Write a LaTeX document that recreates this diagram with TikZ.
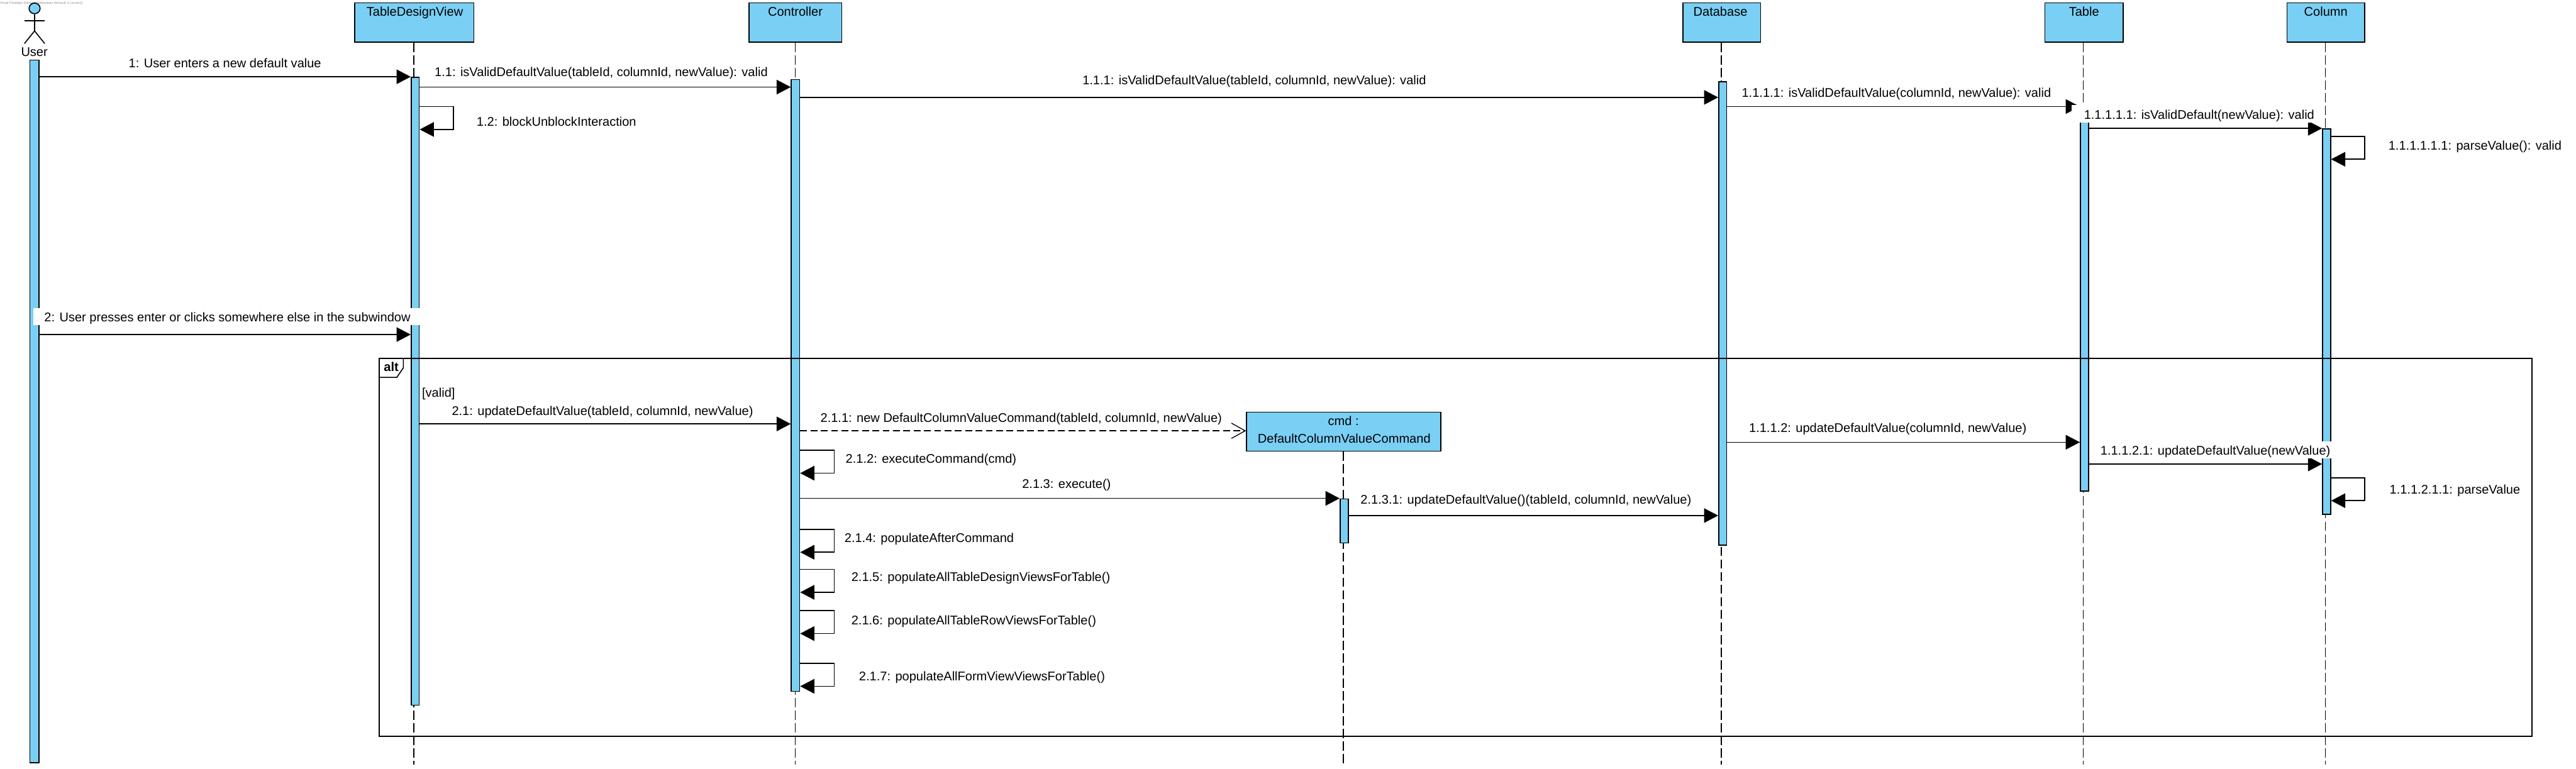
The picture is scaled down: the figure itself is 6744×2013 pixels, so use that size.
\documentclass[tikz,border=0pt]{standalone}
\usepackage{fontspec}
\setmainfont{Liberation Sans}
\usetikzlibrary{arrows.meta,shapes.geometric}
\definecolor{vpblue}{HTML}{7ACFF5}
\tikzset{
  bar/.style={draw=black,fill=vpblue,line width=2.7pt,inner sep=0pt,rectangle},
  objbox/.style={draw=black,fill=vpblue,line width=2.7pt,inner sep=0pt,rectangle},
  lifeline/.style={draw=black,line width=2.7pt,dash pattern=on 24pt off 9pt},
  msg/.style={draw=black,line width=2.7pt,-{Triangle[length=37pt,width=38pt]}},
  createmsg/.style={draw=black,line width=2.2pt,dash pattern=on 18pt off 9pt,-{Straight Barb[length=36pt,width=40pt,line width=2.2pt]}},
  lbl/.style={inner sep=0pt,outer sep=0pt,anchor=base west,font=\fontsize{33}{40}\selectfont},
  ctr/.style={inner sep=0pt,outer sep=0pt,anchor=base,font=\fontsize{33}{40}\selectfont},
  stick/.style={draw=black,line width=2.7pt},
  frameline/.style={draw=black,line width=2.7pt}
}
\begin{document}
\begin{tikzpicture}[x=1pt,y=-1pt]
\useasboundingbox (0,0) rectangle (6744,2013);
\fill[white] (0,0) rectangle (6744,2013);
% watermark
\node[inner sep=0pt,anchor=base west,text=black!45,font=\fontsize{8.2}{10}\selectfont] (wm) at (0,10) {Visual Paradigm Standard(Sebastiaan Henau(K.U.Leuven))};
% actor
\node[draw=black,fill=vpblue,line width=2.7pt,ellipse,inner sep=0pt,minimum width=29pt,minimum height=28pt] (head) at (90.5,22) {};
\coordinate (hip) at (90.5,81);
\draw[stick] (head.south) -- (hip);
\draw[stick] (64,54) -- (117,54);
\draw[stick] (64,114) -- (hip) -- (117,114);
\node[ctr] (userlabel) at (90,147) {User};
% objects
\node[objbox,minimum width=312pt,minimum height=103pt] (oTDV) at (1084.5,59) {};
\node[objbox,minimum width=243pt,minimum height=103pt] (oCtrl) at (2082,59) {};
\node[objbox,minimum width=509pt,minimum height=102pt] (oCmd) at (3518,1130.5) {};
\node[objbox,minimum width=204pt,minimum height=103pt] (oDB) at (4507.5,59) {};
\node[objbox,minimum width=205pt,minimum height=103pt] (oTable) at (5456,59) {};
\node[objbox,minimum width=203pt,minimum height=103pt] (oCol) at (6089,59) {};
\node[ctr] (tTDV) at (1086,42) {TableDesignView};
\node[ctr] (tCtrl) at (2082,42) {Controller};
\node[ctr] (tCmd) at (3517,1114) {cmd :};
\node[ctr] (tCmdb) at (3519,1160) {DefaultColumnValueCommand};
\node[ctr] (tDB) at (4504,42) {Database};
\node[ctr] (tTable) at (5456,42) {Table};
\node[ctr] (tCol) at (6089,42) {Column};
% lifelines
\draw[lifeline] (oTDV.south -| 1083,0) -- (1083,2002);
\draw[lifeline] (oCtrl.south -| 2082,0) -- (2082,2002);
\draw[lifeline] (oCmd.south -| 3517,0) -- (3517,2002);
\draw[lifeline] (oDB.south -| 4506,0) -- (4506,2002);
\draw[lifeline] (oTable.south -| 5454,0) -- (5454,2002);
\draw[lifeline] (oCol.south -| 6088,0) -- (6088,2002);
% activations
\node[bar,minimum width=24pt,minimum height=1840pt] (aUser) at (90.5,1077.5) {};
\node[bar,minimum width=21pt,minimum height=1644pt] (aTDV) at (1087,1024.5) {};
\node[bar,minimum width=22pt,minimum height=1602pt] (aCtrl) at (2082.5,1009.5) {};
\node[bar,minimum width=22pt,minimum height=115pt] (aCmd) at (3519.5,1364) {};
\node[bar,minimum width=21pt,minimum height=1213pt] (aDB) at (4510,821) {};
\node[bar,minimum width=21pt,minimum height=1005pt] (aTable) at (5457,783) {};
\node[bar,minimum width=21pt,minimum height=1009pt] (aCol) at (6091,842) {};
% alt frame
\node[frameline,rectangle,inner sep=0pt,minimum width=5636pt,minimum height=989pt] (frame) at (3810.5,1433) {};
\draw[frameline,line join=miter] (1056,937) -- (1056,963) -- (1039,988) -- (991,988);
\node[lbl,font=\fontsize{33}{40}\selectfont\bfseries] (alt) at (1005,972) {alt};
% messages
\draw[msg] (aUser.east |- 0,201) -- (aTDV.west |- 0,201);
\draw[msg] (aTDV.east |- 0,228) -- (aCtrl.west |- 0,228);
\draw[msg] (aCtrl.east |- 0,255) -- (aDB.west |- 0,255);
\draw[msg] (aDB.east |- 0,279) -- (aTable.west |- 0,279);
\draw[msg] (aTable.east |- 0,336) -- (aCol.west |- 0,336);
\draw[msg] (aCol.east |- 0,357) -- ++(88,0) -- ++(0,60) -- ++(-88,0);
\draw[msg] (aTDV.east |- 0,279) -- ++(88,0) -- ++(0,60) -- ++(-88,0);
\draw[msg] (aUser.east |- 0,876) -- (aTDV.west |- 0,876);
\draw[msg] (aTDV.east |- 0,1110) -- (aCtrl.west |- 0,1110);
\draw[createmsg] (aCtrl.east |- 0,1128) -- (oCmd.west |- 0,1128);
\draw[msg] (aCtrl.east |- 0,1179) -- ++(89,0) -- ++(0,60) -- ++(-89,0);
\draw[msg] (aCtrl.east |- 0,1305) -- (aCmd.west |- 0,1305);
\draw[msg] (aCtrl.east |- 0,1386) -- ++(89,0) -- ++(0,60) -- ++(-89,0);
\draw[msg] (aCtrl.east |- 0,1491) -- ++(89,0) -- ++(0,60) -- ++(-89,0);
\draw[msg] (aCtrl.east |- 0,1599) -- ++(89,0) -- ++(0,60) -- ++(-89,0);
\draw[msg] (aCtrl.east |- 0,1737) -- ++(89,0) -- ++(0,60) -- ++(-89,0);
\draw[msg] (aCmd.east |- 0,1350) -- (aDB.west |- 0,1350);
\draw[msg] (aDB.east |- 0,1158) -- (aTable.west |- 0,1158);
\draw[msg] (aTable.east |- 0,1215) -- (aCol.west |- 0,1215);
\draw[msg] (aCol.east |- 0,1251) -- ++(88,0) -- ++(0,60) -- ++(-88,0);
% white label backgrounds
\fill[white] (87,807) rectangle (1100,852);
\fill[white] (5424,275) rectangle (6087,321);
\fill[white] (5470,1155) rectangle (6104,1200);
% labels
\node[lbl] (l1) at (337,177) {1: User enters a new default value};
\node[lbl] (l11) at (1138,200) {1.1: isValidDefaultValue(tableId, columnId, newValue): valid};
\node[lbl] (l111) at (2834,222) {1.1.1: isValidDefaultValue(tableId, columnId, newValue): valid};
\node[lbl] (l1111) at (4560,255) {1.1.1.1: isValidDefaultValue(columnId, newValue): valid};
\node[lbl] (l11111) at (5456,312) {1.1.1.1.1: isValidDefault(newValue): valid};
\node[lbl] (l111111) at (6253,393) {1.1.1.1.1.1: parseValue(): valid};
\node[lbl] (l12) at (1248,330) {1.2: blockUnblockInteraction};
\node[lbl] (l2) at (116,842) {2: User presses enter or clicks somewhere else in the subwindow};
\node[lbl] (lv) at (1105,1040) {[valid]};
\node[lbl] (l21) at (1183,1087) {2.1: updateDefaultValue(tableId, columnId, newValue)};
\node[lbl] (l211) at (2148,1105) {2.1.1: new DefaultColumnValueCommand(tableId, columnId, newValue)};
\node[lbl] (l212) at (2214,1213) {2.1.2: executeCommand(cmd)};
\node[lbl] (l213) at (2676,1278) {2.1.3: execute()};
\node[lbl] (l214) at (2211,1420) {2.1.4: populateAfterCommand};
\node[lbl] (l215) at (2229,1522) {2.1.5: populateAllTableDesignViewsForTable()};
\node[lbl] (l216) at (2229,1636) {2.1.6: populateAllTableRowViewsForTable()};
\node[lbl] (l217) at (2249,1783) {2.1.7: populateAllFormViewViewsForTable()};
\node[lbl] (l2131) at (3562,1320) {2.1.3.1: updateDefaultValue()(tableId, columnId, newValue)};
\node[lbl] (l1112) at (4579,1132) {1.1.1.2: updateDefaultValue(columnId, newValue)};
\node[lbl] (l11121) at (5499,1192) {1.1.1.2.1: updateDefaultValue(newValue)};
\node[lbl] (l111211) at (6256,1294) {1.1.1.2.1.1: parseValue};
\end{tikzpicture}
\end{document}
